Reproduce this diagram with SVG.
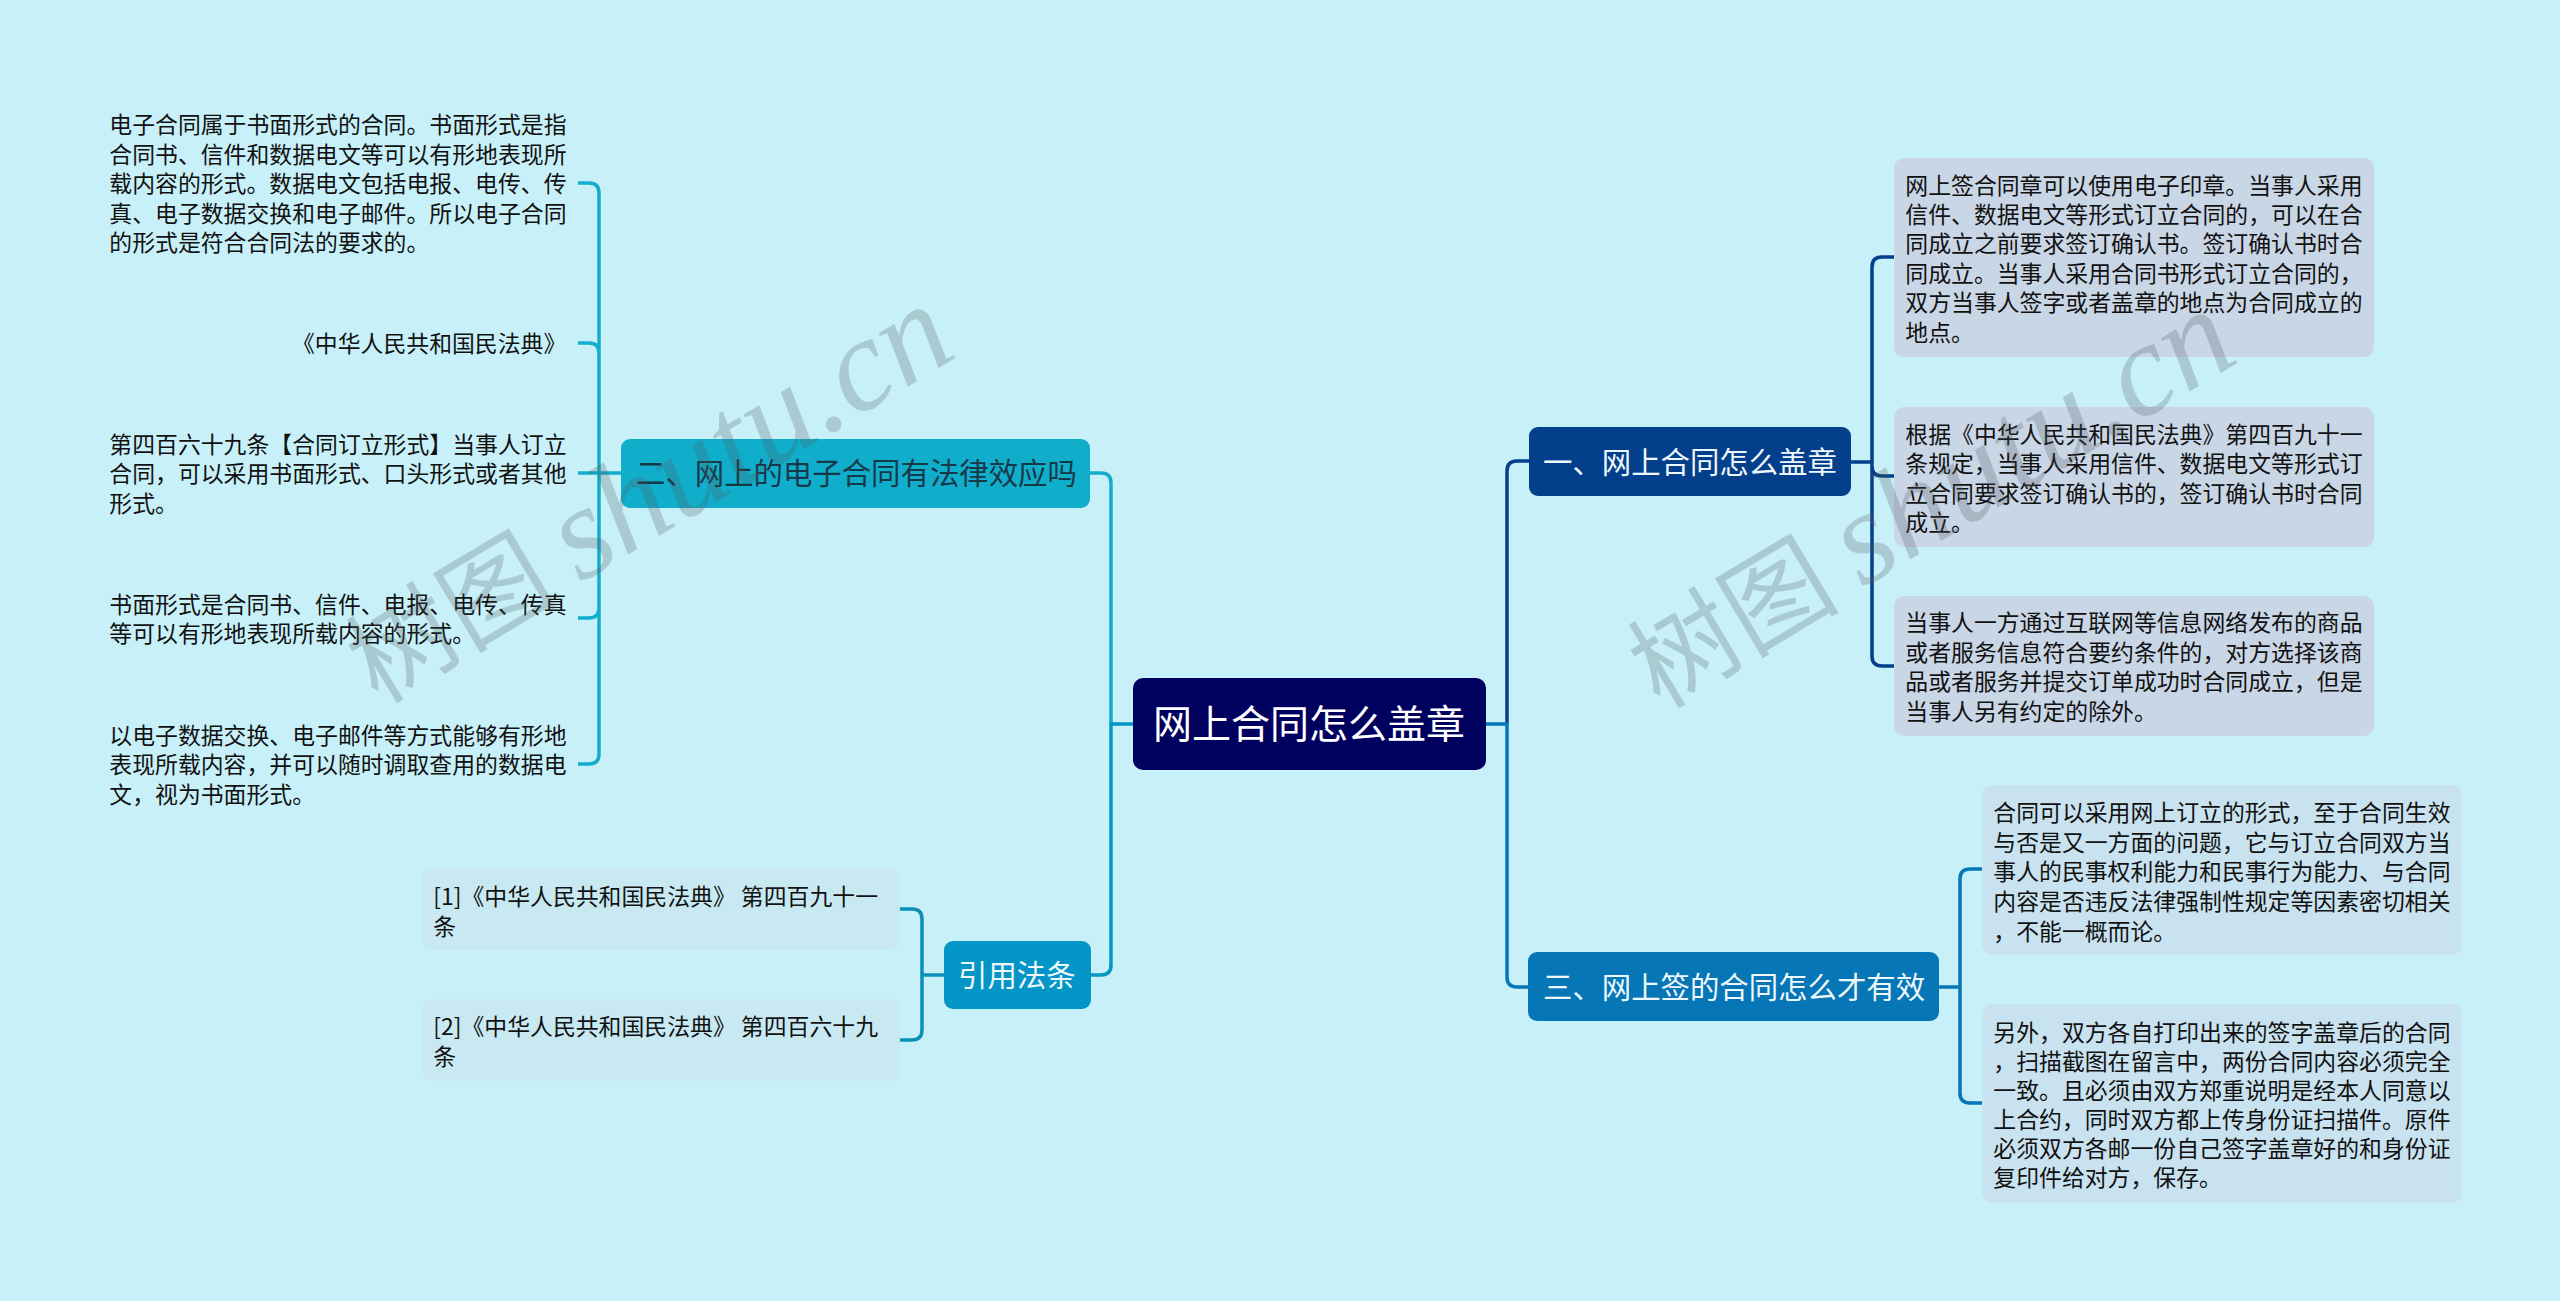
<svg xmlns="http://www.w3.org/2000/svg" width="2560" height="1301" viewBox="0 0 2560 1301">
<style>
text{font-family:"Noto Sans CJK SC","Liberation Sans",sans-serif}
.t{font-size:22.86px;fill:#111;dominant-baseline:central;transform:translate(-.7px,-1.6px)}
.h{font-size:29.4px;fill:#eef8fc;dominant-baseline:central;transform:translate(0,-2px)}
.c{fill:none;stroke-width:3.5}
.wm{font-size:106px;fill:#50585a;fill-opacity:.25}
.wl{font-family:"Liberation Serif",serif;font-style:italic;font-size:132px}
</style>
<rect width="2560" height="1301" fill="#c8f0f8"/>
<g id="connectors">
<path class="c" stroke="#12aecc" d="M578 183H589Q599 183 599 193V754Q599 764 589 764H578M578 343H589Q599 343 599 353M578 473H621M578 618H589Q599 618 599 608"/>
<path class="c" stroke="#12aecc" d="M1090 473H1101Q1111 473 1111 483V724"/>
<path class="c" stroke="#0395c6" d="M1133 724H1111V965Q1111 975 1101 975H1091"/>
<path class="c" stroke="#0b8fb9" d="M900 909H912Q922 909 922 919V1030Q922 1040 912 1040H900M922 975H944"/>
<path class="c" stroke="#033f8a" d="M1529 461H1517Q1507 461 1507 471V724"/>
<path class="c" stroke="#0676b6" d="M1486 724H1507V977Q1507 987 1517 987H1528"/>
<path class="c" stroke="#033f8a" d="M1894 257H1882Q1872 257 1872 267V656Q1872 666 1882 666H1894M1851 462H1872M1872 466Q1872 476 1882 476H1894"/>
<path class="c" stroke="#0676b6" d="M1982 869H1970Q1960 869 1960 879V1093Q1960 1103 1970 1103H1982M1939 987H1960"/>
</g>
<g id="root"><rect x="1133" y="678" width="353" height="92" rx="10" fill="#00005e"/><text x="1309" y="720.500" text-anchor="middle" dominant-baseline="central" font-size="39" fill="#fff">网上合同怎么盖章</text></g>
<g id="n1"><rect x="1529" y="427" width="322" height="69" rx="9" fill="#033f8a"/><text class="h" x="1543" y="462">一、网上合同怎么盖章</text></g>
<g id="n3"><rect x="1528" y="952" width="411" height="69" rx="9" fill="#0676b6"/><text class="h" x="1543" y="987">三、网上签的合同怎么才有效</text></g>
<g id="n2"><rect x="621" y="439" width="469" height="69" rx="9" fill="#10aecb"/><text class="h" x="636" y="473" style="fill:#173848">二、网上的电子合同有法律效应吗</text></g>
<g id="n4"><rect x="944" y="941" width="147" height="68" rx="9" fill="#0395c6"/><text class="h" x="958" y="975">引用法条</text></g>
<g id="a1"><rect x="1894" y="158" width="480" height="199" rx="10" fill="#c9d6e6"/>
<text class="t" x="1906" y="186">网上签合同章可以使用电子印章。当事人采用</text>
<text class="t" x="1906" y="215">信件、数据电文等形式订立合同的，可以在合</text>
<text class="t" x="1906" y="244">同成立之前要求签订确认书。签订确认书时合</text>
<text class="t" x="1906" y="274">同成立。当事人采用合同书形式订立合同的，</text>
<text class="t" x="1906" y="303">双方当事人签字或者盖章的地点为合同成立的</text>
<text class="t" x="1906" y="333">地点。</text></g>
<g id="a2"><rect x="1894" y="407" width="480" height="140" rx="10" fill="#c9d6e6"/>
<text class="t" x="1906" y="435">根据《中华人民共和国民法典》第四百九十一</text>
<text class="t" x="1906" y="464">条规定，当事人采用信件、数据电文等形式订</text>
<text class="t" x="1906" y="494">立合同要求签订确认书的，签订确认书时合同</text>
<text class="t" x="1906" y="523">成立。</text></g>
<g id="a3"><rect x="1894" y="596" width="480" height="140" rx="10" fill="#c9d6e6"/>
<text class="t" x="1906" y="623">当事人一方通过互联网等信息网络发布的商品</text>
<text class="t" x="1906" y="653">或者服务信息符合要约条件的，对方选择该商</text>
<text class="t" x="1906" y="682">品或者服务并提交订单成功时合同成立，但是</text>
<text class="t" x="1906" y="712">当事人另有约定的除外。</text></g>
<g id="b1"><rect x="1982" y="785" width="480" height="170" rx="10" fill="#c9e2ef"/>
<text class="t" x="1994" y="813">合同可以采用网上订立的形式，至于合同生效</text>
<text class="t" x="1994" y="843">与否是又一方面的问题，它与订立合同双方当</text>
<text class="t" x="1994" y="872">事人的民事权利能力和民事行为能力、与合同</text>
<text class="t" x="1994" y="902">内容是否违反法律强制性规定等因素密切相关</text>
<text class="t" x="1994" y="932">，不能一概而论。</text></g>
<g id="b2"><rect x="1982" y="1004" width="480" height="199" rx="10" fill="#c9e2ef"/>
<text class="t" x="1994" y="1033">另外，双方各自打印出来的签字盖章后的合同</text>
<text class="t" x="1994" y="1062">，扫描截图在留言中，两份合同内容必须完全</text>
<text class="t" x="1994" y="1091">一致。且必须由双方郑重说明是经本人同意以</text>
<text class="t" x="1994" y="1120">上合约，同时双方都上传身份证扫描件。原件</text>
<text class="t" x="1994" y="1149">必须双方各邮一份自己签字盖章好的和身份证</text>
<text class="t" x="1994" y="1178">复印件给对方，保存。</text></g>
<g id="c1">
<text class="t" x="110" y="125">电子合同属于书面形式的合同。书面形式是指</text>
<text class="t" x="110" y="154.500">合同书、信件和数据电文等可以有形地表现所</text>
<text class="t" x="110" y="184">载内容的形式。数据电文包括电报、电传、传</text>
<text class="t" x="110" y="213.500">真、电子数据交换和电子邮件。所以电子合同</text>
<text class="t" x="110" y="243">的形式是符合合同法的要求的。</text></g>
<g id="c2"><text class="t" x="567" y="344" text-anchor="end">《中华人民共和国民法典》</text></g>
<g id="c3">
<text class="t" x="110" y="445">第四百六十九条【合同订立形式】当事人订立</text>
<text class="t" x="110" y="474">合同，可以采用书面形式、口头形式或者其他</text>
<text class="t" x="110" y="504">形式。</text></g>
<g id="c4">
<text class="t" x="110" y="605">书面形式是合同书、信件、电报、电传、传真</text>
<text class="t" x="110" y="634">等可以有形地表现所载内容的形式。</text></g>
<g id="c5">
<text class="t" x="110" y="736">以电子数据交换、电子邮件等方式能够有形地</text>
<text class="t" x="110" y="765">表现所载内容，并可以随时调取查用的数据电</text>
<text class="t" x="110" y="795">文，视为书面形式。</text></g>
<g id="r1"><rect x="422" y="868" width="478" height="82" rx="10" fill="#c8e9f2"/>
<text class="t" x="434" y="897">[1]《中华人民共和国民法典》 第四百九十一</text>
<text class="t" x="434" y="927">条</text></g>
<g id="r2"><rect x="422" y="999" width="478" height="82" rx="10" fill="#c8e9f2"/>
<text class="t" x="434" y="1027">[2]《中华人民共和国民法典》 第四百六十九</text>
<text class="t" x="434" y="1057">条</text></g>
<g id="watermarks">
<text class="wm" transform="translate(378 705) rotate(-31)">树图 <tspan class="wl">shutu.cn</tspan></text>
<text class="wm" transform="translate(1660 710) rotate(-31)">树图 <tspan class="wl">shutu.cn</tspan></text>
</g>
</svg>
